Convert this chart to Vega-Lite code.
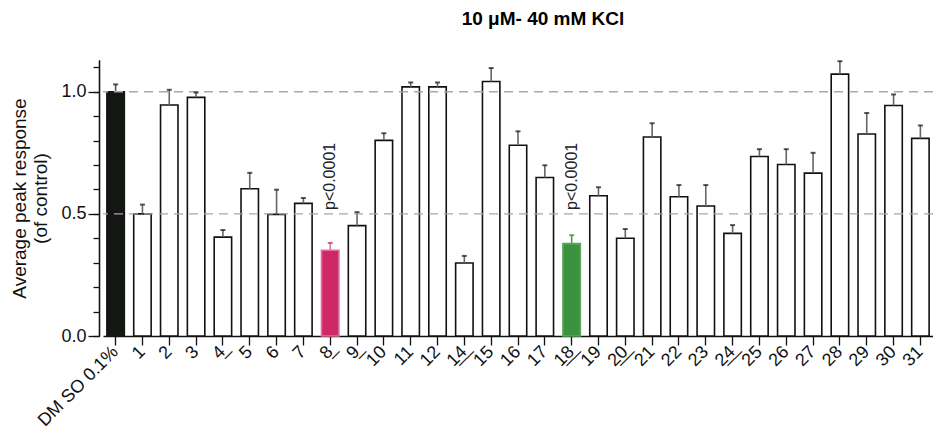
{
  "$schema": "https://vega.github.io/schema/vega-lite/v6.json",
  "autosize": "none",
  "padding": {"left": 103, "top": 60, "right": 0, "bottom": 103},
  "width": 830,
  "height": 276,
  "title": {"text": "10 μM- 40 mM KCl", "fontSize": 19, "fontWeight": "bold", "font": "Liberation Sans", "anchor": "middle", "dx": 25, "offset": 16, "baseline": "alphabetic", "color": "#000"},
  "config": {
    "view": {"stroke": null},
    "font": "Liberation Sans",
    "axis": {"labelFont": "Liberation Sans", "titleFont": "Liberation Sans", "domainColor": "#111", "tickColor": "#111", "labelColor": "#111", "titleColor": "#111", "domainWidth": 1.3, "tickWidth": 1.3}
  },
  "data": {"values": [
    {"compound": "DM SO 0.1%", "mean": 1.0, "upper": 1.03, "group": "control"},
    {"compound": "1", "mean": 0.50, "upper": 0.538, "group": "test"},
    {"compound": "2", "mean": 0.946, "upper": 1.008, "group": "test"},
    {"compound": "3", "mean": 0.977, "upper": 0.997, "group": "test"},
    {"compound": "4", "mean": 0.405, "upper": 0.434, "group": "test"},
    {"compound": "5", "mean": 0.603, "upper": 0.668, "group": "test"},
    {"compound": "6", "mean": 0.498, "upper": 0.599, "group": "test"},
    {"compound": "7", "mean": 0.543, "upper": 0.565, "group": "test"},
    {"compound": "8", "mean": 0.351, "upper": 0.381, "group": "hit8", "note": "p<0.0001"},
    {"compound": "9", "mean": 0.452, "upper": 0.507, "group": "test"},
    {"compound": "10", "mean": 0.801, "upper": 0.830, "group": "test"},
    {"compound": "11", "mean": 1.020, "upper": 1.038, "group": "test"},
    {"compound": "12", "mean": 1.020, "upper": 1.038, "group": "test"},
    {"compound": "14", "mean": 0.299, "upper": 0.328, "group": "test"},
    {"compound": "15", "mean": 1.042, "upper": 1.097, "group": "test"},
    {"compound": "16", "mean": 0.781, "upper": 0.838, "group": "test"},
    {"compound": "17", "mean": 0.649, "upper": 0.699, "group": "test"},
    {"compound": "18", "mean": 0.378, "upper": 0.413, "group": "hit18", "note": "p<0.0001"},
    {"compound": "19", "mean": 0.574, "upper": 0.609, "group": "test"},
    {"compound": "20", "mean": 0.400, "upper": 0.438, "group": "test"},
    {"compound": "21", "mean": 0.815, "upper": 0.871, "group": "test"},
    {"compound": "22", "mean": 0.570, "upper": 0.618, "group": "test"},
    {"compound": "23", "mean": 0.532, "upper": 0.618, "group": "test"},
    {"compound": "24", "mean": 0.420, "upper": 0.454, "group": "test"},
    {"compound": "25", "mean": 0.735, "upper": 0.765, "group": "test"},
    {"compound": "26", "mean": 0.702, "upper": 0.765, "group": "test"},
    {"compound": "27", "mean": 0.667, "upper": 0.750, "group": "test"},
    {"compound": "28", "mean": 1.072, "upper": 1.125, "group": "test"},
    {"compound": "29", "mean": 0.827, "upper": 0.913, "group": "test"},
    {"compound": "30", "mean": 0.944, "upper": 0.989, "group": "test"},
    {"compound": "31", "mean": 0.809, "upper": 0.862, "group": "test"}
  ]},
  "encoding": {
    "x": {
      "field": "compound", "type": "nominal", "sort": null,
      "scale": {"paddingInner": 0.35, "paddingOuter": 0.145},
      "axis": {
        "title": null, "labelAngle": -45, "labelAlign": "right", "labelBaseline": "middle",
        "labelFontSize": 18, "tickSize": 9, "labelPadding": 4,
        "labelExpr": "datum.value == '4' ? '4\u0332' : datum.value == '8' ? '8\u0332' : datum.value == '9' ? '9\u0332' : datum.value == '14' ? '1\u03324\u0332' : datum.value == '18' ? '1\u03328\u0332' : datum.value == '20' ? '2\u03320\u0332' : datum.value == '24' ? '2\u03324\u0332' : datum.value"
      }
    }
  },
  "layer": [
    {
      "mark": {"type": "bar", "strokeWidth": 1.6},
      "encoding": {
        "y": {
          "field": "mean", "type": "quantitative",
          "scale": {"domain": [0, 1.13], "nice": false},
          "axis": {
            "orient": "left", "offset": 4,
            "title": ["Average peak response", "(of control)"], "titleFontSize": 19, "titleFontWeight": "normal",
            "titlePadding": 10, "titleLineHeight": 21,
            "values": [0, 0.5, 1.0], "format": ".1f",
            "labelOverlap": false, "labelBound": false,
            "labelFontSize": 18, "labelPadding": 2, "grid": false, "tickSize": 11
          }
        },
        "fill": {"field": "group", "type": "nominal", "legend": null,
          "scale": {"domain": ["control", "test", "hit8", "hit18"], "range": ["#141614", "#ffffff", "#cf2868", "#3a913f"]}},
        "stroke": {"field": "group", "type": "nominal", "legend": null,
          "scale": {"domain": ["control", "test", "hit8", "hit18"], "range": ["#141614", "#111111", "#e0709a", "#5aa85e"]}}
      }
    },
    {
      "mark": {"type": "rule", "strokeWidth": 1.6},
      "encoding": {
        "y": {"field": "mean", "type": "quantitative",
          "axis": {"orient": "left", "offset": 4, "values": [0, 0.1, 0.2, 0.3, 0.4, 0.5, 0.6, 0.7, 0.8, 0.9, 1.0, 1.1],
            "labels": false, "domain": true, "title": null, "tickSize": 6, "grid": false}},
        "y2": {"field": "upper"},
        "stroke": {"field": "group", "type": "nominal", "legend": null,
          "scale": {"domain": ["control", "test", "hit8", "hit18"], "range": ["#555555", "#666666", "#e27aa1", "#4a9c4e"]}}
      }
    },
    {
      "data": {"values": [{"ref": 0.5}, {"ref": 1.0}]},
      "mark": {"type": "rule", "color": "#a8a8a8", "strokeDash": [9, 6], "strokeWidth": 1.3},
      "encoding": {"x": null, "y": {"field": "ref", "type": "quantitative", "axis": null}}
    },
    {
      "mark": {"type": "tick", "orient": "horizontal", "size": 5, "thickness": 2},
      "encoding": {
        "y": {"field": "upper", "type": "quantitative", "axis": null},
        "color": {"field": "group", "type": "nominal", "legend": null,
          "scale": {"domain": ["control", "test", "hit8", "hit18"], "range": ["#111111", "#111111", "#c8235f", "#358a3a"]}}
      }
    },
    {
      "transform": [{"filter": "datum.note"}],
      "mark": {"type": "text", "angle": 270, "align": "left", "baseline": "middle", "fontSize": 16, "color": "#222"},
      "encoding": {
        "y": {"datum": 0.516, "axis": null},
        "text": {"field": "note"}
      }
    }
  ],
  "resolve": {"scale": {"stroke": "independent", "color": "independent", "fill": "independent"}, "axis": {"y": "independent"}}
}
